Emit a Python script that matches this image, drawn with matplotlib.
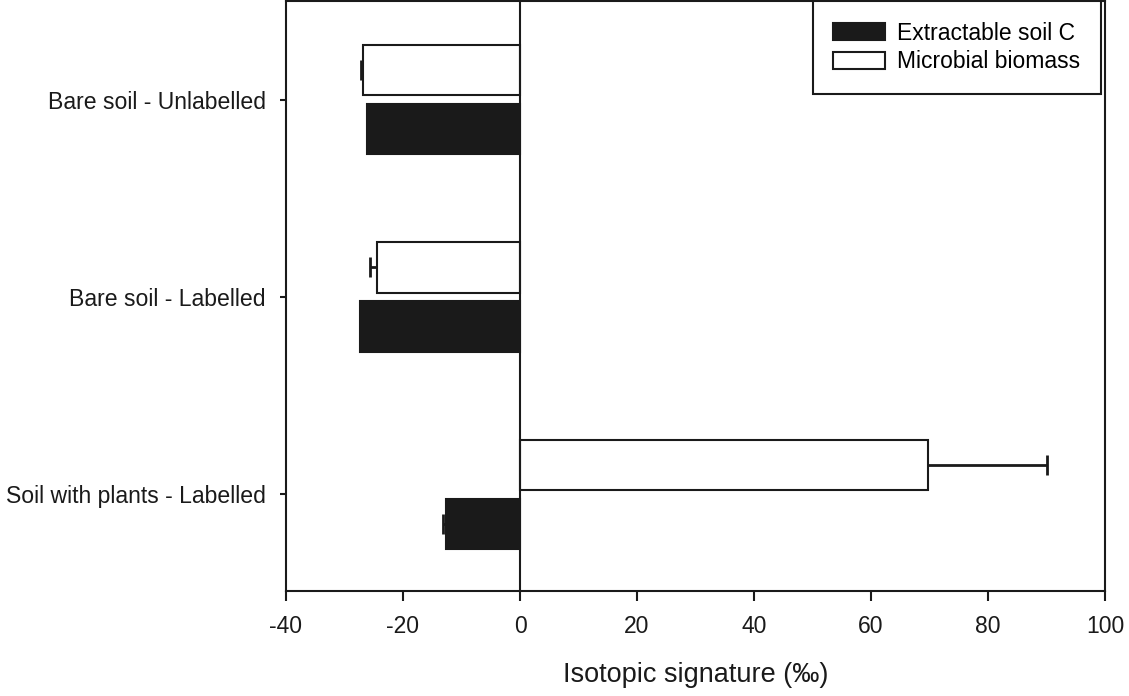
import numpy as np
import matplotlib.pyplot as plt

plt.rcParams['font.family'] = ['Liberation Sans', 'DejaVu Sans']
plt.rcParams['axes.unicode_minus'] = False

# data (per mil), bottom to top
groups = ['Soil with plants - Labelled', 'Bare soil - Labelled', 'Bare soil - Unlabelled']
extractable = [-12.6, -27.3, -26.2]
extractable_err = [0.6, 0.0, 0.0]
microbial = [69.8, -24.5, -26.8]
microbial_err = [20.3, 1.2, 0.4]

y = np.arange(len(groups))
h = 0.255
off = 0.15
cap = 0.05
dark = '#1a1a1a'


def whiskers(ax, ys, vals, errs):
    # one-sided error bars, drawn away from zero
    for yy, v, e in zip(ys, vals, errs):
        if e <= 0:
            continue
        end = v + e if v >= 0 else v - e
        ax.hlines(yy, v, end, color=dark, lw=2, zorder=3)
        ax.vlines(end, yy - cap, yy + cap, color=dark, lw=2, zorder=3)


fig = plt.figure(figsize=(11.29, 6.96), dpi=100)
ax = fig.add_axes([0.2533, 0.1509, 0.7255, 0.8477])

ax.barh(y - off, extractable, height=h, color=dark, edgecolor=dark,
        linewidth=1.5, label='Extractable soil C')
ax.barh(y + off, microbial, height=h, color='white', edgecolor=dark,
        linewidth=1.5, label='Microbial biomass')
whiskers(ax, y - off, extractable, extractable_err)
whiskers(ax, y + off, microbial, microbial_err)

ax.axvline(0, color=dark, lw=1.5)

ax.set_xlim(-40, 100)
ax.set_ylim(-0.49, 2.5)
ax.set_xticks(np.arange(-40, 101, 20))
ax.set_yticks(y)
ax.set_yticklabels(groups)
ax.tick_params(axis='both', direction='out', width=1.5, colors=dark)
ax.tick_params(axis='y', length=4.5, pad=10, labelsize=16.6)
ax.tick_params(axis='x', length=7.5, pad=10, labelsize=16.5)
for s in ax.spines.values():
    s.set_linewidth(1.5)
    s.set_color(dark)

ax.set_xlabel('Isotopic signature (‰)', fontsize=19.5, labelpad=17, color=dark)

leg = ax.legend(loc='upper right', bbox_to_anchor=(1.0 - 4 / 819, 1.0), fontsize=16.5,
                frameon=True, fancybox=False, edgecolor=dark, framealpha=1,
                borderaxespad=0, handlelength=2.25, handleheight=0.8,
                handletextpad=0.55, borderpad=0.9, labelspacing=0.25)
leg.get_frame().set_linewidth(1.5)

fig.savefig('out.png', dpi=100)
